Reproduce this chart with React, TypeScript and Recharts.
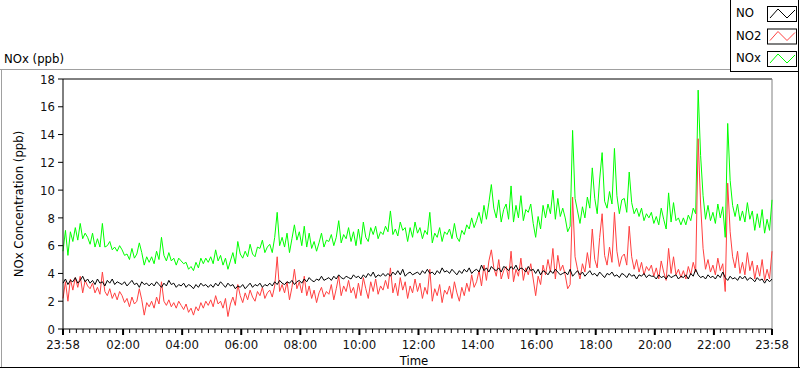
import { LineChart, Line, XAxis, YAxis, ReferenceLine } from "recharts";

// 5-minute samples from 23:58 to 23:58 next day (one row of 12 per hour)
const STEP_MIN = 5;

const NO = [
  3.3, 3.6, 3.2, 3.5, 3.4, 3.7, 3.3, 3.5, 3.8, 3.4, 3.6, 3.3,
  3.5, 3.2, 3.6, 3.3, 3.4, 3.1, 3.5, 3.3, 3.6, 3.2, 3.4, 3.3,
  3.2, 3.4, 3.1, 3.3, 3.5, 3.2, 3.3, 3.0, 3.4, 3.2, 3.3, 3.1,
  3.3, 3.1, 3.4, 3.2, 3.0, 3.3, 3.1, 3.5, 3.2, 3.3, 3.0, 3.2,
  3.1, 3.3, 3.0, 3.2, 3.1, 2.9, 3.2, 3.0, 3.3, 3.1, 3.2, 3.0,
  3.2, 3.0, 3.3, 3.1, 3.4, 3.2, 3.0, 3.3, 3.1, 3.2, 2.9, 3.1,
  3.0, 3.2, 2.9, 3.1, 3.3, 3.0, 3.2, 3.1, 3.3, 3.0, 3.2, 3.1,
  3.3, 3.1, 3.4, 3.2, 3.5, 3.3, 3.2, 3.4, 3.3, 3.5, 3.2, 3.4,
  3.5, 3.3, 3.6, 3.4, 3.7, 3.5, 3.4, 3.6, 3.5, 3.8, 3.5, 3.6,
  3.7, 3.5, 3.8, 3.6, 3.9, 3.7, 3.6, 3.8, 3.7, 3.6, 3.9, 3.7,
  3.8, 3.6, 3.9, 3.7, 4.0, 3.8, 4.1, 3.7, 3.9, 3.8, 4.0, 3.8,
  4.0, 3.8, 4.1, 3.9, 4.2, 3.9, 4.3, 3.8, 4.0, 4.1, 3.9, 4.0,
  4.1, 3.9, 4.2, 4.0, 4.3, 4.0, 4.1, 3.9, 4.2, 4.0, 4.4, 4.1,
  4.2, 4.0, 4.3, 4.1, 3.9, 4.2, 4.0, 4.3, 4.1, 4.4, 4.0, 4.2,
  4.3, 4.1, 4.6, 4.2, 4.4, 4.1, 4.5, 4.3, 4.2, 4.4, 4.1, 4.5,
  4.4, 4.2, 4.5, 4.3, 4.6, 4.2, 4.4, 4.3, 4.1, 4.5, 4.2, 4.3,
  4.0, 4.3, 3.9, 4.2, 4.1, 3.9, 4.2, 4.0, 4.3, 4.1, 3.9, 4.0,
  4.1, 3.9, 4.3, 3.8, 4.0, 4.2, 3.9, 4.1, 3.8, 4.0, 4.2, 3.9,
  4.0, 3.8, 4.1, 3.9, 3.7, 4.0, 3.9, 4.1, 3.8, 3.9, 3.7, 4.0,
  3.9, 3.7, 4.0, 3.8, 3.9, 3.6, 3.9, 3.8, 4.0, 3.7, 3.9, 3.8,
  3.8, 3.6, 3.9, 3.7, 3.8, 3.6, 3.9, 3.7, 3.8, 3.9, 3.6, 3.8,
  3.7, 3.9, 3.6, 4.0, 3.8, 4.3, 3.9, 3.7, 3.8, 3.6, 3.9, 3.7,
  3.8, 3.6, 3.9, 3.7, 4.1, 3.7, 3.5, 3.8, 3.6, 3.7, 3.5, 3.8,
  3.6, 3.8, 3.5, 3.7, 3.6, 3.4, 3.7, 3.5, 3.6, 3.3, 3.6, 3.4,
  3.6,
];

const NO2 = [
  2.2, 3.4, 2.0, 3.6, 2.8, 3.7, 3.0, 3.8, 2.6, 3.5, 3.1, 2.9,
  3.3, 2.6, 3.0, 2.5, 4.1, 2.7, 2.4, 2.9, 2.2, 2.6, 2.1, 2.7,
  2.4, 1.9, 2.2, 1.6, 2.3, 1.8, 2.0, 2.9, 2.1, 1.0, 1.9, 1.6,
  2.0, 1.5, 2.3, 1.8, 3.4, 2.0, 1.7, 2.1, 1.6, 1.9, 1.5, 2.0,
  1.7, 1.4, 1.8, 1.2, 1.5, 1.0, 1.6, 1.3, 1.9, 1.5, 2.0, 1.7,
  2.1, 1.6, 2.4, 1.8, 2.0, 1.5, 2.2, 0.9, 1.8, 2.3, 1.7, 3.2,
  2.4, 1.9, 2.6, 2.1, 2.8, 2.3, 2.0, 2.7, 2.4, 3.0, 2.2, 2.6,
  2.8, 2.3, 3.1, 5.2, 2.7, 3.2, 2.6, 3.4, 2.1, 3.0, 4.3, 2.9,
  3.4, 2.6, 3.8, 2.4, 3.1, 2.2, 2.8, 1.9, 2.6, 3.0, 2.3, 2.7,
  2.5, 3.2, 2.1, 2.9, 3.8, 2.4, 3.1, 2.7, 3.5, 2.6, 3.0, 2.2,
  3.3, 2.4, 3.7, 2.9, 2.2, 3.4, 2.7, 3.6, 2.5, 3.1, 2.8, 3.5,
  2.9, 4.4, 2.6, 3.3, 2.4, 3.7, 2.8, 3.4, 2.2, 3.1, 2.6, 3.6,
  2.7, 3.3, 2.2, 3.0, 2.5, 4.3, 2.0, 2.9, 2.4, 3.2, 1.9, 2.8,
  2.5, 3.1, 2.2, 3.4, 2.6, 2.0, 3.0, 2.4, 3.3, 2.7, 3.9, 3.0,
  3.4, 4.2, 3.1, 4.6, 3.5, 4.9, 5.7, 4.4, 3.8, 5.0, 3.6, 4.2,
  4.5, 3.6, 5.6, 3.4, 4.3, 3.8, 5.1, 3.5, 4.4, 3.9, 4.7, 3.6,
  2.4, 3.8, 3.2, 4.6, 3.9, 5.0, 4.1, 5.8, 3.6, 5.3, 4.2, 4.6,
  3.9, 2.9, 3.2, 9.5, 5.2, 4.3, 3.6, 4.7, 4.1, 5.5, 4.4, 7.2,
  5.0, 4.4, 6.6, 8.3, 5.3, 4.6, 5.9, 4.8, 8.4, 5.6, 4.5, 5.2,
  5.4, 4.6, 7.4, 5.2, 4.3, 5.0, 4.1, 4.8, 3.9, 4.5, 4.2, 4.6,
  3.8, 4.4, 3.6, 4.9, 4.1, 3.5, 5.8, 4.0, 5.2, 3.9, 4.3, 3.7,
  4.2, 3.6, 4.5, 3.9, 4.8, 4.1, 13.7, 9.0, 5.8, 4.3, 5.0, 4.1,
  4.6, 3.9, 5.1, 4.2, 4.7, 2.7, 10.5, 7.0, 5.2, 4.4, 5.6, 4.0,
  4.8, 3.9, 5.5, 4.2, 4.9, 3.6, 4.6, 3.8, 5.0, 3.5, 4.3, 3.6,
  5.6,
];

const NOX = [
  5.6, 7.1, 5.3, 7.0, 6.3, 7.3, 6.4, 7.6, 6.5, 6.9, 6.6, 6.1,
  6.9, 5.9, 6.5, 5.9, 7.6, 5.9, 6.0, 6.3, 5.7, 5.9, 5.6, 6.0,
  5.7, 5.3, 5.4, 5.0, 5.8, 5.1, 5.4, 6.2, 5.5, 4.6, 5.2, 4.8,
  5.2, 4.7, 5.6, 5.0, 6.6, 5.3, 4.9, 5.5, 4.9, 5.1, 4.6, 5.1,
  4.9, 4.7, 4.8, 4.3, 4.5, 4.2, 4.8, 4.4, 5.1, 4.7, 5.1, 4.8,
  5.2, 4.7, 5.7, 4.9, 5.3, 4.6, 5.1, 4.3, 4.9, 5.5, 4.7, 6.3,
  5.4, 5.1, 5.6, 5.2, 6.1, 5.4, 5.2, 5.9, 5.8, 6.4, 5.5, 5.9,
  6.1, 5.5, 6.6, 8.4, 6.0, 6.6, 5.9, 6.9, 5.5, 6.5, 7.5, 6.4,
  7.0, 6.0, 7.4, 5.9, 6.9, 5.8, 6.3, 5.6, 6.2, 6.9, 5.9, 6.4,
  6.3, 6.8, 6.0, 6.6, 7.8, 6.2, 6.8, 6.5, 7.3, 6.3, 7.0, 6.0,
  7.2, 6.1, 7.7, 6.6, 6.3, 7.3, 6.8, 7.4, 6.5, 7.0, 6.8, 7.4,
  7.0, 8.5, 6.8, 7.2, 6.7, 7.7, 7.1, 7.3, 6.3, 7.3, 6.6, 7.7,
  6.9, 7.3, 6.5, 7.1, 6.8, 8.4, 6.2, 6.9, 6.6, 7.3, 6.3, 7.0,
  6.8, 7.2, 6.5, 7.6, 6.6, 6.3, 7.1, 6.8, 7.5, 7.2, 8.0, 7.3,
  7.8, 8.4, 7.6, 8.9, 7.9, 9.1, 10.4, 8.7, 8.0, 9.3, 7.7, 8.6,
  9.0, 7.9, 10.3, 7.7, 8.9, 8.0, 9.6, 7.8, 8.6, 8.4, 9.0, 7.6,
  6.6, 8.1, 7.2, 8.9, 8.0, 9.0, 8.3, 10.0, 7.9, 9.4, 8.1, 8.7,
  8.0, 7.0, 7.4, 14.3, 9.4, 8.5, 7.6, 8.8, 8.0, 9.5, 8.7, 11.6,
  9.4, 8.3, 10.8, 12.7, 9.2, 8.7, 9.9, 9.0, 13.0, 9.6, 8.3, 9.3,
  9.4, 8.4, 11.3, 9.1, 8.3, 8.7, 8.1, 8.7, 7.8, 8.3, 8.0, 8.4,
  7.6, 8.1, 7.5, 8.7, 7.9, 7.2, 9.8, 7.7, 9.1, 7.8, 8.0, 7.5,
  8.0, 7.5, 8.2, 7.8, 8.7, 8.3, 17.2, 12.5, 9.6, 7.9, 8.9, 7.8,
  8.4, 7.6, 9.0, 8.0, 8.8, 6.6, 14.8, 10.7, 8.9, 8.1, 9.0, 7.8,
  8.5, 7.7, 9.1, 7.9, 8.5, 7.1, 8.3, 7.3, 8.6, 6.9, 7.9, 7.1,
  9.3,
];

// minutes after 23:58 for the labelled ticks
const TIME_TICKS = [0, 122, 242, 362, 482, 602, 722, 842, 962, 1082, 1202, 1322, 1440];
const TIME_LABELS = [
  "23:58", "02:00", "04:00", "06:00", "08:00", "10:00", "12:00",
  "14:00", "16:00", "18:00", "20:00", "22:00", "23:58",
];
const Y_TICKS = [0, 2, 4, 6, 8, 10, 12, 14, 16, 18];

const SERIES = [
  { key: "no", name: "NO", color: "#000000" },
  { key: "no2", name: "NO2", color: "#ff4040" },
  { key: "nox", name: "NOx", color: "#00ff00" },
];

const FONT = "'Liberation Sans Narrow', 'DejaVu Sans Condensed', 'Liberation Sans', sans-serif";

const rows = NO.map((no, i) => ({ t: i * STEP_MIN, no, no2: NO2[i], nox: NOX[i] }));

// 8 minor ticks between each pair of labelled ticks
const MINOR_TICKS: number[] = [];
for (let i = 0; i < TIME_TICKS.length - 1; i++) {
  const a = TIME_TICKS[i];
  const b = TIME_TICKS[i + 1];
  for (let k = 1; k < 9; k++) MINOR_TICKS.push(a + ((b - a) * k) / 9);
}
const ALL_TICKS = [...TIME_TICKS, ...MINOR_TICKS].sort((a, b) => a - b);

function TimeTick(props: any) {
  const { x, y, payload } = props;
  const idx = TIME_TICKS.indexOf(payload.value);
  const major = idx >= 0;
  return (
    <g>
      <line x1={x} x2={x} y1={y} y2={y + (major ? 6 : 4)} stroke="#000" strokeWidth={major ? 2 : 1} />
      {major && (
        <text x={x} y={y + 20} textAnchor="middle" fontFamily={FONT} fontSize={13} fill="#111">
          {TIME_LABELS[idx]}
        </text>
      )}
    </g>
  );
}

export default function App() {
  return (
    <div style={{ position: "absolute", left: 0, top: 0, width: 800, height: 369, background: "#fff" }}>
      <LineChart width={800} height={369} data={rows} margin={{ top: 79, right: 28, bottom: 0, left: 13 }}>
        <XAxis
          dataKey="t"
          type="number"
          domain={[0, 1440]}
          ticks={ALL_TICKS}
          interval={0}
          tickSize={0}
          tickMargin={0}
          height={40}
          axisLine={{ stroke: "#000" }}
          tick={(p: any) => <TimeTick {...p} />}
        />
        <YAxis
          type="number"
          domain={[0, 18]}
          ticks={Y_TICKS}
          interval={0}
          width={50}
          tickSize={5}
          tickMargin={3}
          axisLine={{ stroke: "#000" }}
          tickLine={{ stroke: "#000" }}
          tick={{ fill: "#111", fontSize: 13, fontFamily: FONT }}
        />
        <ReferenceLine y={18} stroke="#000" />
        <ReferenceLine x={1440} stroke="#808080" />
        <Line dataKey="nox" stroke="#00ff00" strokeWidth={1} dot={false} isAnimationActive={false} />
        <Line dataKey="no2" stroke="#ff4040" strokeWidth={1} dot={false} isAnimationActive={false} />
        <Line dataKey="no" stroke="#000000" strokeWidth={1} dot={false} isAnimationActive={false} />
      </LineChart>

      <svg
        width={800}
        height={369}
        style={{ position: "absolute", left: 0, top: 0, pointerEvents: "none" }}
        fontFamily={FONT}
        fontSize={13}
      >
        {/* outer frame */}
        <line x1={0} x2={731} y1={69.5} y2={69.5} stroke="#a0a0a0" />
        <line x1={1.5} x2={1.5} y1={69} y2={368} stroke="#a0a0a0" />
        <line x1={0} x2={800} y1={367.5} y2={367.5} stroke="#000" />
        <line x1={798.5} x2={798.5} y1={0} y2={368} stroke="#000" />

        <text x={4} y={63} fill="#000">NOx (ppb)</text>
        <text transform="rotate(-90)" x={-204} y={23} textAnchor="middle" fill="#000">
          NOx Concentration (ppb)
        </text>
        <text x={414} y={365} textAnchor="middle" fill="#000">Time</text>

        {/* legend */}
        <rect x={730.5} y={-1} width={68} height={72.5} fill="#fff" stroke="#000" />
        {SERIES.map((s, i) => {
          const top = 6 + i * 22.5;
          return (
            <g key={s.key}>
              <text x={736} y={top + 11} fill="#000">{s.name}</text>
              <rect x={767.5} y={top + 0.5} width={29} height={15} fill="#fff" stroke="#000" />
              <polyline
                points={`${770},${top + 12} ${778},${top + 3} ${787},${top + 12} ${795},${top + 4}`}
                fill="none"
                stroke={s.color}
              />
            </g>
          );
        })}
      </svg>
    </div>
  );
}
